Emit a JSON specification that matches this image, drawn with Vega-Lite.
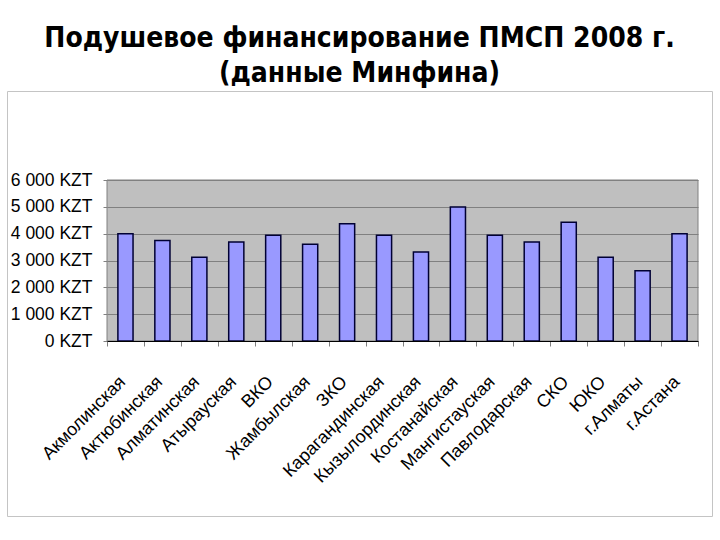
{
  "$schema": "https://vega.github.io/schema/vega-lite/v6.json",
  "autosize": {"type": "none"},
  "width": 705,
  "height": 425,
  "padding": {"left": 7, "top": 91, "right": 8, "bottom": 24},
  "background": "white",
  "title": {
    "text": ["Подушевое финансирование ПМСП 2008 г.", "(данные Минфина)"],
    "font": "DejaVu Sans Condensed",
    "fontSize": 28,
    "fontWeight": "bold",
    "color": "black",
    "lineHeight": 35,
    "anchor": "middle",
    "frame": "group",
    "offset": 3
  },
  "layer": [
    {
      "data": {"values": [{"panel": "plot"}]},
      "mark": {"type": "rect", "fill": "#808080", "fillOpacity": 0.5, "stroke": "#808080", "strokeWidth": 1},
      "encoding": {
        "x": {"datum": "Акмолинская", "type": "nominal", "bandPosition": 0},
        "x2": {"datum": "г.Астана", "bandPosition": 1},
        "y": {"datum": 0, "type": "quantitative"},
        "y2": {"datum": 6000}
      }
    },
    {
      "data": {
        "values": [
          {"region": "Акмолинская", "value": 4000},
          {"region": "Актюбинская", "value": 3750},
          {"region": "Алматинская", "value": 3120},
          {"region": "Атырауская", "value": 3690},
          {"region": "ВКО", "value": 3940},
          {"region": "Жамбылская", "value": 3610},
          {"region": "ЗКО", "value": 4370},
          {"region": "Карагандинская", "value": 3940},
          {"region": "Кызылординская", "value": 3320},
          {"region": "Костанайская", "value": 4990},
          {"region": "Мангистауская", "value": 3940},
          {"region": "Павлодарская", "value": 3690},
          {"region": "СКО", "value": 4430},
          {"region": "ЮКО", "value": 3120},
          {"region": "г.Алматы", "value": 2620},
          {"region": "г.Астана", "value": 4000}
        ]
      },
      "mark": {"type": "bar", "fill": "#9999FF", "stroke": "#000033", "strokeWidth": 1.5, "width": {"band": 0.41}},
      "encoding": {
        "x": {
          "field": "region",
          "type": "nominal",
          "sort": null,
          "scale": {
            "domain": ["Акмолинская", "Актюбинская", "Алматинская", "Атырауская", "ВКО", "Жамбылская", "ЗКО", "Карагандинская", "Кызылординская", "Костанайская", "Мангистауская", "Павлодарская", "СКО", "ЮКО", "г.Алматы", "г.Астана"],
            "paddingInner": 0,
            "paddingOuter": 0,
            "range": [100, 691]
          },
          "axis": {
            "title": null,
            "offset": -175,
            "labelAngle": -45,
            "labelAlign": "right",
            "labelBaseline": "middle",
            "labelFont": "Liberation Sans",
            "labelFontSize": 18,
            "labelColor": "black",
            "labelPadding": 33,
            "labelOffset": -3,
            "tickBand": "extent",
            "tickColor": "#808080",
            "tickSize": 5,
            "domainColor": "#000000",
            "grid": false
          }
        },
        "y": {
          "field": "value",
          "type": "quantitative",
          "scale": {"domain": [0, 6000], "nice": false, "range": [250, 89]},
          "axis": {
            "title": null,
            "offset": -100,
            "values": [0, 1000, 2000, 3000, 4000, 5000, 6000],
            "labelExpr": "replace(format(datum.value, ','), ',', ' ') + ' KZT'",
            "labelFont": "Liberation Sans",
            "labelFontSize": 17.5,
            "labelColor": "black",
            "labelPadding": 11,
            "tickSize": 4,
            "tickColor": "#808080",
            "domain": false,
            "grid": true,
            "gridColor": "#808080",
            "gridWidth": 1
          }
        }
      }
    }
  ],
  "config": {
    "view": {"fill": "white", "stroke": "#C4C4C4", "strokeWidth": 1}
  }
}
